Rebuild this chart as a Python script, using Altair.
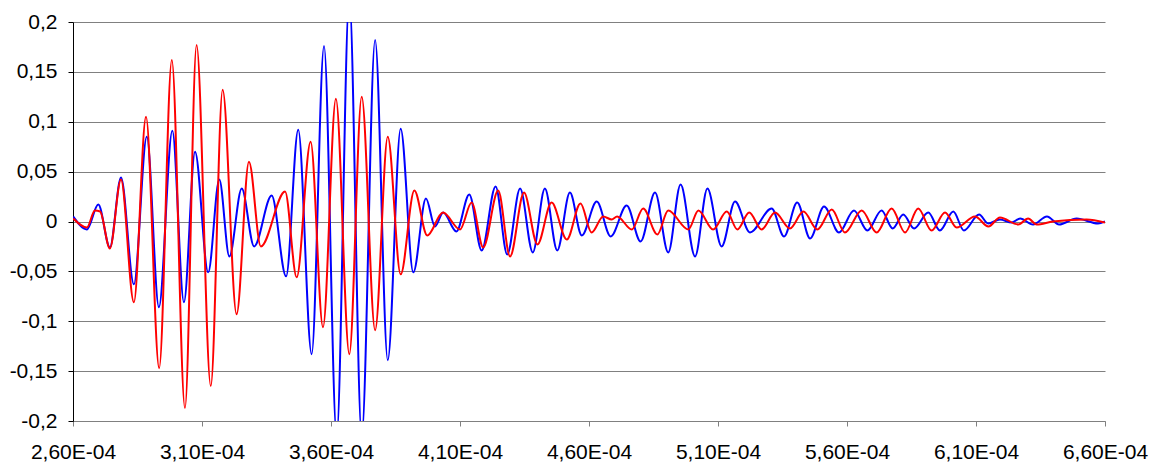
import altair as alt
import pandas as pd

# Time values in units of 1E-04 s, amplitudes
blue_t = [2.601, 2.654, 2.698, 2.743, 2.786, 2.836, 2.886, 2.933, 2.985, 3.030,
          3.073, 3.124, 3.167, 3.206, 3.254, 3.302, 3.370, 3.426, 3.473, 3.525,
          3.573, 3.622, 3.671, 3.719, 3.771, 3.820, 3.870, 3.919, 3.968, 4.003,
          4.035, 4.086, 4.136, 4.184, 4.238, 4.283, 4.333, 4.382, 4.429, 4.477,
          4.526, 4.572, 4.630, 4.684, 4.746, 4.800, 4.856, 4.907, 4.955, 5.011,
          5.059, 5.114, 5.166, 5.224, 5.308, 5.356, 5.407, 5.457, 5.511, 5.569,
          5.627, 5.679, 5.734, 5.777, 5.818, 5.860, 5.915, 5.960, 6.012, 6.053,
          6.112, 6.147, 6.193, 6.238, 6.271, 6.321, 6.375, 6.422, 6.490, 6.573,
          6.600]
blue_v = [0.005, -0.008, 0.017, -0.026, 0.044, -0.063, 0.085, -0.086, 0.091, -0.081,
          0.070, -0.051, 0.042, -0.035, 0.033, -0.025, 0.026, -0.055, 0.092, -0.133,
          0.176, -0.215, 0.225, -0.215, 0.182, -0.139, 0.093, -0.051, 0.023, -0.005,
          0.009, -0.010, 0.027, -0.029, 0.035, -0.033, 0.033, -0.031, 0.033, -0.029,
          0.029, -0.014, 0.020, -0.015, 0.016, -0.020, 0.029, -0.031, 0.037, -0.035,
          0.033, -0.025, 0.020, -0.011, 0.013, -0.015, 0.019, -0.017, 0.015, -0.011,
          0.011, -0.009, 0.011, -0.007, 0.007, -0.007, 0.009, -0.009, 0.010, -0.009,
          0.007, -0.002, 0.002, -0.001, 0.003, -0.003, 0.005, -0.003, 0.003, -0.002,
          0.000]

red_t = [2.601, 2.654, 2.685, 2.705, 2.743, 2.786, 2.836, 2.883, 2.934, 2.983,
         3.034, 3.079, 3.134, 3.180, 3.234, 3.282, 3.328, 3.422, 3.467, 3.521,
         3.569, 3.619, 3.671, 3.719, 3.771, 3.820, 3.870, 3.923, 3.973, 4.034,
         4.100, 4.145, 4.190, 4.248, 4.294, 4.348, 4.400, 4.455, 4.514, 4.567,
         4.610, 4.655, 4.688, 4.709, 4.766, 4.810, 4.865, 4.907, 4.985, 5.024,
         5.081, 5.134, 5.175, 5.221, 5.269, 5.321, 5.379, 5.431, 5.485, 5.541,
         5.592, 5.657, 5.715, 5.773, 5.825, 5.876, 5.928, 5.980, 6.025, 6.096,
         6.148, 6.193, 6.264, 6.302, 6.335, 6.398, 6.529, 6.600]
red_v = [0.003, -0.006, 0.011, 0.010, -0.027, 0.042, -0.081, 0.105, -0.147, 0.162,
         -0.187, 0.177, -0.165, 0.132, -0.093, 0.060, -0.025, 0.030, -0.056, 0.080,
         -0.106, 0.123, -0.133, 0.125, -0.109, 0.085, -0.053, 0.031, -0.014, 0.009,
         -0.008, 0.019, -0.026, 0.031, -0.035, 0.029, -0.023, 0.019, -0.018, 0.018,
         -0.011, 0.005, 0.002, 0.005, -0.008, 0.013, -0.013, 0.011, -0.008, 0.011,
         -0.008, 0.010, -0.008, 0.009, -0.008, 0.009, -0.007, 0.010, -0.008, 0.012,
         -0.011, 0.011, -0.011, 0.013, -0.011, 0.013, -0.009, 0.009, -0.006, 0.005,
         -0.005, 0.004, -0.003, 0.003, -0.003, 0.000, 0.002, -0.001]

x_ticks = [2.6e-4, 3.1e-4, 3.6e-4, 4.1e-4, 4.6e-4, 5.1e-4, 5.6e-4, 6.1e-4, 6.6e-4]
y_ticks = [-0.2, -0.15, -0.1, -0.05, 0.0, 0.05, 0.1, 0.15, 0.2]

df_blue = pd.DataFrame({"t": [v * 1e-4 for v in blue_t], "v": blue_v})
df_red = pd.DataFrame({"t": [v * 1e-4 for v in red_t], "v": red_v})

FONT = "Liberation Sans"

x_enc = alt.X(
    "t:Q",
    scale=alt.Scale(domain=[2.6e-4, 6.6e-4], nice=False, zero=False),
    axis=alt.Axis(
        title=None, grid=False, values=x_ticks,
        labelExpr="replace(format(datum.value*10000, '.2f'), '.', ',') + 'E-04'",
        labelFont=FONT, labelFontSize=21, labelColor="black",
        labelPadding=15, tickSize=5, tickColor="#808080",
        domainColor="#808080", labelFlush=False, labelOverlap=False,
    ),
)
y_enc = alt.Y(
    "v:Q",
    scale=alt.Scale(domain=[-0.2, 0.2], nice=False, zero=False),
    axis=alt.Axis(
        title=None, values=y_ticks,
        labelExpr="(datum.value < 0 ? '-' : '') + replace(format(abs(datum.value), '.2~f'), '.', ',')",
        labelFont=FONT, labelFontSize=21, labelColor="black",
        labelPadding=11, tickSize=5, tickColor="black", domainColor="black",
        grid=True, gridColor="#808080", gridWidth=1, gridOpacity=1,
        labelFlush=False, labelOverlap=False,
    ),
)

blue = alt.Chart(df_blue).mark_line(
    color="#0000FF", strokeWidth=2, interpolate="monotone", clip=True
).encode(x=x_enc, y=y_enc)
red = alt.Chart(df_red).mark_line(
    color="#FF0000", strokeWidth=2, interpolate="monotone", clip=True
).encode(x=x_enc, y=y_enc)

chart = (
    alt.layer(blue, red)
    .properties(
        width=1032, height=399,
        autosize=alt.AutoSizeParams(type="none"),
        padding={"left": 73, "top": 22, "right": 49, "bottom": 45},
        background="white",
    )
    .configure_view(stroke=None)
)

chart.save("out.html", embed_options={"renderer": "svg", "actions": False})
